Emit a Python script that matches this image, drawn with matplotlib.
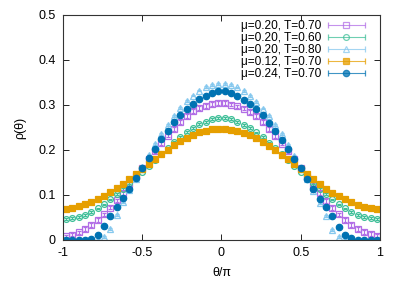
import numpy as np
import matplotlib
matplotlib.use("Agg")
import matplotlib.pyplot as plt
from matplotlib.container import ErrorbarContainer
from matplotlib.legend_handler import HandlerErrorbar

plt.rcParams["font.family"] = ["Liberation Sans", "DejaVu Sans"]
plt.rcParams["font.size"] = 9

# bin centres of theta/pi (50 bins)
theta = np.linspace(-0.98, 0.98, 50)

labels = [
    "μ=0.20, T=0.70",
    "μ=0.20, T=0.60",
    "μ=0.20, T=0.80",
    "μ=0.12, T=0.70",
    "μ=0.24, T=0.70",
]

rho_mu020_T070 = [
    0.008, 0.012, 0.017, 0.024, 0.033, 0.045, 0.057, 0.072, 0.088, 0.105,
    0.124, 0.142, 0.161, 0.180, 0.198, 0.215, 0.232, 0.246, 0.262, 0.276,
    0.286, 0.293, 0.298, 0.302, 0.305,
    0.304, 0.301, 0.297, 0.292, 0.285, 0.275, 0.262, 0.247, 0.231, 0.214,
    0.197, 0.180, 0.160, 0.141, 0.123, 0.104, 0.087, 0.071, 0.057, 0.045,
    0.033, 0.024, 0.018, 0.013, 0.009,
]
rho_mu020_T060 = [
    0.046, 0.048, 0.051, 0.056, 0.062, 0.070, 0.079, 0.090, 0.102, 0.114,
    0.126, 0.139, 0.152, 0.165, 0.178, 0.192, 0.205, 0.217, 0.229, 0.240,
    0.249, 0.257, 0.263, 0.268, 0.271,
    0.271, 0.268, 0.263, 0.256, 0.248, 0.239, 0.228, 0.216, 0.204, 0.191,
    0.178, 0.165, 0.152, 0.139, 0.126, 0.114, 0.102, 0.090, 0.079, 0.070,
    0.062, 0.056, 0.051, 0.048, 0.046,
]
rho_mu020_T080 = [
    0.000, 0.000, 0.000, 0.000, 0.000, 0.000, 0.007, 0.024, 0.055, 0.084,
    0.110, 0.136, 0.162, 0.188, 0.213, 0.236, 0.256, 0.276, 0.293, 0.308,
    0.321, 0.332, 0.340, 0.345, 0.347,
    0.347, 0.344, 0.339, 0.331, 0.320, 0.307, 0.292, 0.275, 0.255, 0.235,
    0.212, 0.187, 0.161, 0.135, 0.109, 0.083, 0.054, 0.023, 0.007, 0.000,
    0.000, 0.000, 0.000, 0.000, 0.000,
]
rho_mu012_T070 = [
    0.069, 0.071, 0.075, 0.079, 0.085, 0.091, 0.098, 0.106, 0.115, 0.125,
    0.136, 0.147, 0.158, 0.169, 0.180, 0.190, 0.200, 0.210, 0.219, 0.227,
    0.234, 0.239, 0.243, 0.246, 0.247,
    0.247, 0.245, 0.242, 0.238, 0.233, 0.226, 0.218, 0.209, 0.199, 0.189,
    0.179, 0.168, 0.157, 0.146, 0.135, 0.124, 0.114, 0.105, 0.097, 0.090,
    0.084, 0.078, 0.074, 0.070, 0.068,
]
rho_mu024_T070 = [
    0.000, 0.000, 0.000, 0.000, 0.003, 0.011, 0.030, 0.053, 0.073, 0.093,
    0.114, 0.137, 0.161, 0.182, 0.203, 0.224, 0.243, 0.262, 0.278, 0.291,
    0.303, 0.313, 0.321, 0.327, 0.331,
    0.331, 0.327, 0.320, 0.312, 0.302, 0.290, 0.277, 0.261, 0.242, 0.223,
    0.202, 0.181, 0.160, 0.136, 0.113, 0.092, 0.073, 0.053, 0.029, 0.011,
    0.004, 0.000, 0.000, 0.000, 0.000,
]
errs = [0.004, 0.002, 0.002, 0.001, 0.001]

series = [rho_mu020_T070, rho_mu020_T060, rho_mu020_T080, rho_mu012_T070, rho_mu024_T070]
colors = ["#b26ee6", "#3fbf98", "#86c8ee", "#e69f00", "#0072b2"]
markers = ["s", "o", "^", "s", "o"]
sizes = [4.2, 4.2, 4.4, 4.4, 4.6]
filled = [False, False, False, True, True]

fig = plt.figure(figsize=(4.03, 2.82), dpi=100)
ax = fig.add_axes([0.156, 0.149, 0.787, 0.798])

handles = []
for vals, err, c, m, ms, f, lab in zip(series, errs, colors, markers, sizes, filled, labels):
    ax.errorbar(theta, vals, yerr=err, fmt=m, color=c, ms=ms,
                mfc=c if f else "none", mec=c, mew=0.9,
                elinewidth=0.8, capsize=1.5, capthick=0.8)
    # proxy for gnuplot-style legend sample (horizontal bar with caps)
    h = ax.errorbar([np.nan], [np.nan], xerr=[1], fmt=m, color=c, ms=ms,
                    mfc=c if f else "none", mec=c, mew=0.9,
                    elinewidth=0.8, capsize=2.5, capthick=0.8, alpha=0.75)
    handles.append(h)

ax.set_xlim(-1, 1)
ax.set_ylim(0, 0.5)
ax.set_xticks([-1, -0.5, 0, 0.5, 1])
ax.set_xticklabels(["-1", "-0.5", "0", "0.5", "1"])
ax.set_yticks([0, 0.1, 0.2, 0.3, 0.4, 0.5])
ax.set_yticklabels(["0", "0.1", "0.2", "0.3", "0.4", "0.5"])
ax.tick_params(direction="in", top=True, right=True, length=4, width=0.6,
               labelsize=9, pad=5)
for s in ax.spines.values():
    s.set_linewidth(0.8)
    s.set_color("#333333")

ax.set_xlabel("θ/π", fontsize=9, labelpad=6)
ax.set_ylabel("ρ(θ)", fontsize=9, labelpad=9)

hl = 3.1
leg = ax.legend(handles, labels, loc="upper right", frameon=False,
                bbox_to_anchor=(365 / 403, 1 - 20 / 282),
                bbox_transform=fig.transFigure,
                markerfirst=False, handlelength=hl, handletextpad=0.6,
                labelspacing=0.0, borderaxespad=0.0, borderpad=0.0,
                fontsize=8.6,
                handler_map={ErrorbarContainer: HandlerErrorbar(xerr_size=hl / 2, numpoints=1)})

fig.savefig("out.png", dpi=100)
